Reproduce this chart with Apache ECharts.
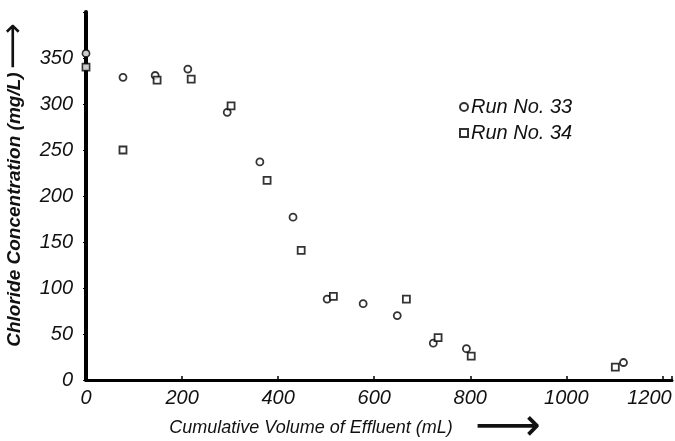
<!DOCTYPE html>
<html><head><meta charset="utf-8">
<script src="https://cdn.jsdelivr.net/npm/echarts@6/dist/echarts.min.js"></script>
<style>html,body{margin:0;padding:0;background:#fff}#c{width:675px;height:441px}</style>
</head><body><div id="c"></div>
<script>
var run33X = [0, 77, 144, 212, 294, 362, 431, 502, 577, 648, 723, 792, 1119];
var run33Y = [355, 329, 331, 338, 291, 237, 177, 88, 83, 70, 40, 34, 19];
var run34X = [0, 77, 148, 219, 302, 377, 448, 515, 667, 733, 802, 1102];
var run34Y = [340, 250, 326, 327, 298, 217, 141, 91, 88, 46, 26, 14];
var seriesNames = ['Run No. 33', 'Run No. 34'];
var xTitle = 'Cumulative Volume of Effluent (mL)';
var yTitle = 'Chloride Concentration (mg/L)';
var arrow = '\u27F6';

function pairs(xs, ys){ return xs.map(function(x,i){ return [x, ys[i]]; }); }
var font = '"Liberation Sans", Arial, sans-serif';
var chart = echarts.init(document.getElementById('c'));
chart.setOption({
  animation: false,
  backgroundColor: '#fff',
  grid: {left: 86, top: 12, width: 586, height: 368, containLabel: false, outerBoundsMode: 'none'},
  legend: {
    orient: 'vertical', left: 454, top: 92, itemGap: 6,
    itemWidth: 8, itemHeight: 8,
    textStyle: {fontFamily: font, fontStyle: 'italic', fontSize: 20, color: '#111', padding: [0,0,0,-2]},
    data: [{name: seriesNames[0], icon: 'circle'}, {name: seriesNames[1], icon: 'rect'}]
  },
  xAxis: {
    type: 'value', min: 0, max: 1220, interval: 200,
    name: '{t|' + xTitle + '}{a|' + arrow + '}', nameLocation: 'middle', nameGap: 36,
    nameMoveOverlap: false,
    nameTextStyle: {padding: [0, 48, 0, 0], lineHeight: 24,
      rich: {
        t: {fontFamily: font, fontStyle: 'italic', fontSize: 18, color: '#111', lineHeight: 24, verticalAlign: 'middle'},
        a: {fontFamily: '"DejaVu Sans", sans-serif', fontSize: 46, color: '#111', lineHeight: 24, verticalAlign: 'middle', padding: [0,0,0,22]}
      }},
    axisLine: {lineStyle: {color: '#000', width: 3}},
    axisTick: {inside: true, length: 4, lineStyle: {color: '#000', width: 1.5}},
    axisLabel: {fontFamily: font, fontStyle: 'italic', fontSize: 20, color: '#111', margin: 8,
      formatter: function(v){
        if (v % 200 !== 0) return '';
        return v === 1200 ? '{r|' + v + '}' : String(v);
      },
      rich: {r: {fontFamily: font, fontStyle: 'italic', fontSize: 20, color: '#111', padding: [0, 26, 0, 0]}}},
    splitLine: {show: false}
  },
  yAxis: {
    type: 'value', min: 0, max: 400, interval: 50,
    name: '{t|' + yTitle + '} {a|' + arrow + '}', nameLocation: 'middle', nameGap: 60,
    nameMoveOverlap: false,
    nameTextStyle: {padding: [0, 0, 0, 22], lineHeight: 22,
      rich: {
        t: {fontFamily: font, fontStyle: 'italic', fontWeight: 'bold', fontSize: 19, color: '#111', lineHeight: 22, verticalAlign: 'middle'},
        a: {fontFamily: '"DejaVu Sans", sans-serif', fontSize: 32, color: '#111', lineHeight: 22, verticalAlign: 'middle'}
      }},
    axisLine: {lineStyle: {color: '#000', width: 4}},
    axisTick: {inside: false, length: 3, lineStyle: {color: '#000', width: 1}},
    axisLabel: {fontFamily: font, fontStyle: 'italic', fontSize: 20, color: '#111', margin: 13,
      formatter: function(v){ return v >= 400 ? '' : String(v); }},
    splitLine: {show: false}
  },
  series: [
    {name: seriesNames[0], type: 'scatter', symbol: 'circle', symbolSize: 7,
     itemStyle: {color: '#fff', borderColor: '#000', borderWidth: 1.8}, data: pairs(run33X, run33Y)},
    {name: seriesNames[1], type: 'scatter', symbol: 'rect', symbolSize: 7,
     itemStyle: {color: '#fff', borderColor: '#000', borderWidth: 1.8}, data: pairs(run34X, run34Y)}
  ]
});
</script></body></html>
